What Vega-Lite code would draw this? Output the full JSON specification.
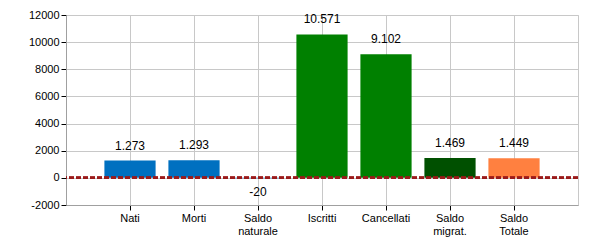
{
  "$schema": "https://vega.github.io/schema/vega-lite/v6.json",
  "width": 512,
  "height": 190,
  "autosize": "none",
  "padding": {"left": 66, "top": 15, "right": 22, "bottom": 45},
  "data": {
    "values": [
      {"voce": "Nati", "valore": 1273, "gruppo": "naturale"},
      {"voce": "Morti", "valore": 1293, "gruppo": "naturale"},
      {"voce": "Saldo naturale", "valore": -20, "gruppo": "saldo naturale"},
      {"voce": "Iscritti", "valore": 10571, "gruppo": "migratorio"},
      {"voce": "Cancellati", "valore": 9102, "gruppo": "migratorio"},
      {"voce": "Saldo migrat.", "valore": 1469, "gruppo": "saldo migratorio"},
      {"voce": "Saldo Totale", "valore": 1449, "gruppo": "saldo totale"}
    ]
  },
  "encoding": {
    "y": {
      "field": "valore",
      "type": "quantitative",
      "scale": {"domain": [-2000, 12000], "nice": false},
      "axis": {
        "title": null,
        "values": [-2000, 0, 2000, 4000, 6000, 8000, 10000, 12000],
        "format": "d",
        "labelOverlap": false,
        "labelFlush": false,
        "grid": true,
        "gridColor": "#c8c8c8",
        "domainColor": "#a0a0a0",
        "tickColor": "#000000",
        "tickSize": 5,
        "labelPadding": 2,
        "labelColor": "#000000"
      }
    }
  },
  "layer": [
    {
      "mark": {"type": "bar"},
      "encoding": {
        "x": {
          "field": "voce",
          "type": "nominal",
          "sort": null,
          "scale": {"paddingInner": 0.2, "paddingOuter": 0.6},
          "axis": {
            "title": null,
            "labelAngle": 0,
            "labelExpr": "split(datum.label, ' ')",
            "grid": true,
            "gridColor": "#c8c8c8",
            "domainColor": "#a0a0a0",
            "tickColor": "#000000",
            "tickSize": 5,
            "labelPadding": 2,
            "labelLineHeight": 13,
            "labelColor": "#000000"
          }
        },
        "color": {
          "field": "gruppo",
          "type": "nominal",
          "scale": {
            "domain": ["naturale", "saldo naturale", "migratorio", "saldo migratorio", "saldo totale"],
            "range": ["#0070C0", "#0070C0", "#008000", "#005000", "#FF8040"]
          },
          "legend": null
        }
      }
    },
    {
      "mark": {"type": "rule", "color": "#9B1B1B", "strokeWidth": 2, "strokeDash": [5, 2]},
      "encoding": {"y": {"datum": 0, "type": "quantitative"}}
    },
    {
      "transform": [{"filter": "datum.valore >= 0"}],
      "mark": {"type": "text", "baseline": "bottom", "dy": -8, "fontSize": 12, "font": "Liberation Sans", "color": "#000000"},
      "encoding": {
        "x": {"field": "voce", "type": "nominal", "sort": null},
        "text": {"field": "valore", "type": "quantitative", "format": ",d"}
      }
    },
    {
      "transform": [{"filter": "datum.valore < 0"}],
      "mark": {"type": "text", "baseline": "top", "dy": 9, "fontSize": 12, "font": "Liberation Sans", "color": "#000000"},
      "encoding": {
        "x": {"field": "voce", "type": "nominal", "sort": null},
        "text": {"field": "valore", "type": "quantitative", "format": ",d"}
      }
    }
  ],
  "config": {
    "locale": {"number": {"decimal": ",", "thousands": ".", "grouping": [3], "currency": ["€", ""], "minus": "-"}},
    "view": {"stroke": "#c8c8c8"},
    "axis": {"labelFont": "Liberation Sans", "labelFontSize": 11, "labelColor": "#000000"}
  }
}
